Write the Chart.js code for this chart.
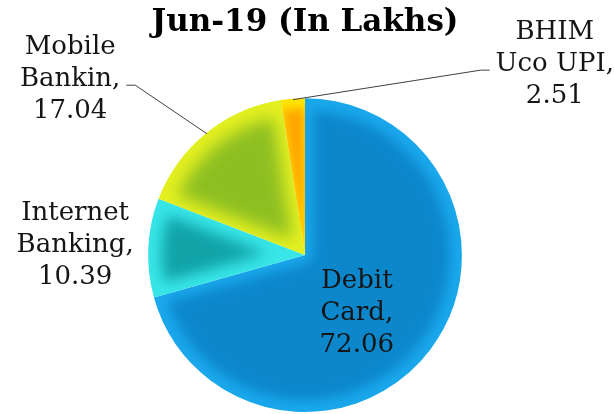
<!DOCTYPE html>
<html>
<head>
<meta charset="utf-8">
<script src="https://cdn.jsdelivr.net/npm/chart.js@4.4.1/dist/chart.umd.min.js"></script>
<style>
  html, body { margin: 0; padding: 0; background: #fff; }
  #wrap { width: 614px; height: 414px; }
</style>
</head>
<body>
<div id="wrap"><canvas id="pieChart"></canvas></div>
<script>
const categories = ['Debit Card', 'Internet Banking', 'Mobile Bankin', 'BHIM Uco UPI'];
const values = [72.06, 10.39, 17.04, 2.51];

// shading: flat middle colour, lighter towards the slice edges
const baseColors = ['#0c87cc', '#10a3a8', '#8dbf22', '#ffa500'];
const edgeColors = ['#1aa8ec', '#38e6e8', '#e4f020', '#ffe600'];
const rimBevel = [12, 14, 16, 10];
const rayBevel = [8, 12, 10, 0];

// where each label sits, relative to the pie centre, in radii
const labelSpots = [[0.33, 0.37], [-1.465, -0.064], [-1.497, -1.121], [1.592, -1.217]];
const hasLeader = [false, false, true, true];

const total = values.reduce((a, b) => a + b, 0);
const shadeCache = {};

function sliceShade(context) {
  const chart = context.chart;
  const area = chart.chartArea;
  const i = context.dataIndex;
  if (!area) return baseColors[i];
  const key = i + ':' + area.width + 'x' + area.height;
  if (shadeCache[key]) return shadeCache[key];

  const cx = (area.left + area.right) / 2;
  const cy = (area.top + area.bottom) / 2;
  const R = Math.min(area.width, area.height) / 2;
  const before = values.slice(0, i).reduce((a, b) => a + b, 0);
  const a0 = -Math.PI / 2 + before / total * 2 * Math.PI;
  const a1 = a0 + values[i] / total * 2 * Math.PI;

  const off = document.createElement('canvas');
  off.width = chart.width; off.height = chart.height;
  const o = off.getContext('2d');
  o.fillStyle = edgeColors[i];
  o.fillRect(0, 0, off.width, off.height);

  const inner = document.createElement('canvas');
  inner.width = chart.width; inner.height = chart.height;
  const n = inner.getContext('2d');
  n.beginPath();
  n.moveTo(cx, cy);
  n.arc(cx, cy, R - rimBevel[i], a0, a1);
  n.closePath();
  n.fillStyle = baseColors[i];
  n.fill();
  if (rayBevel[i] > 0) {
    n.globalCompositeOperation = 'destination-out';
    n.lineWidth = 2 * rayBevel[i];
    n.lineCap = 'round';
    [a0, a1].forEach((a) => {
      n.beginPath();
      n.moveTo(cx, cy);
      n.lineTo(cx + Math.cos(a) * R * 1.2, cy + Math.sin(a) * R * 1.2);
      n.stroke();
    });
  }

  o.filter = 'blur(' + (rimBevel[i] / 2) + 'px)';
  o.drawImage(inner, 0, 0);
  o.filter = 'none';

  const pat = chart.ctx.createPattern(off, 'no-repeat');
  shadeCache[key] = pat;
  return pat;
}

function labelLines(i) {
  const name = categories[i];
  const cut = name.indexOf(' ');
  return [name.slice(0, cut), name.slice(cut + 1) + ',', values[i].toFixed(2)];
}

const sliceLabels = {
  id: 'sliceLabels',
  afterDatasetsDraw(chart) {
    const meta = chart.getDatasetMeta(0);
    const ctx = chart.ctx;
    const first = meta.data[0];
    const cx = first.x, cy = first.y, R = first.outerRadius;
    const gap = 32;
    ctx.save();
    ctx.font = '26px "DejaVu Serif"';
    ctx.fillStyle = '#151515';
    ctx.textAlign = 'center';
    ctx.textBaseline = 'middle';
    meta.data.forEach((arc, i) => {
      const lines = labelLines(i);
      const x = cx + labelSpots[i][0] * R;
      const y = cy + labelSpots[i][1] * R;
      lines.forEach((t, k) => ctx.fillText(t, x, y + (k - 1) * gap));
      if (!hasLeader[i]) return;
      const mid = (arc.startAngle + arc.endAngle) / 2;
      const px = cx + Math.cos(mid) * (R - 1);
      const py = cy + Math.sin(mid) * (R - 1);
      const half = ctx.measureText(lines[1]).width / 2;
      const side = px > x ? 1 : -1;
      const sx = x + side * (half + 6);
      const ly = y + 6;
      ctx.beginPath();
      ctx.strokeStyle = '#404040';
      ctx.lineWidth = 1;
      ctx.moveTo(sx, ly);
      ctx.lineTo(sx + side * 9, ly);
      ctx.lineTo(px, py);
      ctx.stroke();
    });
    ctx.restore();
  }
};

new Chart(document.getElementById('pieChart'), {
  type: 'pie',
  data: {
    labels: categories,
    datasets: [{
      data: values,
      backgroundColor: sliceShade,
      borderWidth: 0,
      hoverOffset: 0,
    }],
  },
  options: {
    responsive: true,
    maintainAspectRatio: false,
    animation: false,
    layout: { padding: { left: 148, right: 152, top: 0, bottom: 2 } },
    plugins: {
      legend: { display: false },
      tooltip: { enabled: false },
      title: {
        display: true,
        text: 'Jun-19 (In Lakhs)',
        color: '#000',
        font: { family: 'DejaVu Serif', size: 31, weight: 'bold' },
        padding: { top: 4, bottom: 57 },
      },
    },
  },
  plugins: [sliceLabels],
});
</script>
</body>
</html>
